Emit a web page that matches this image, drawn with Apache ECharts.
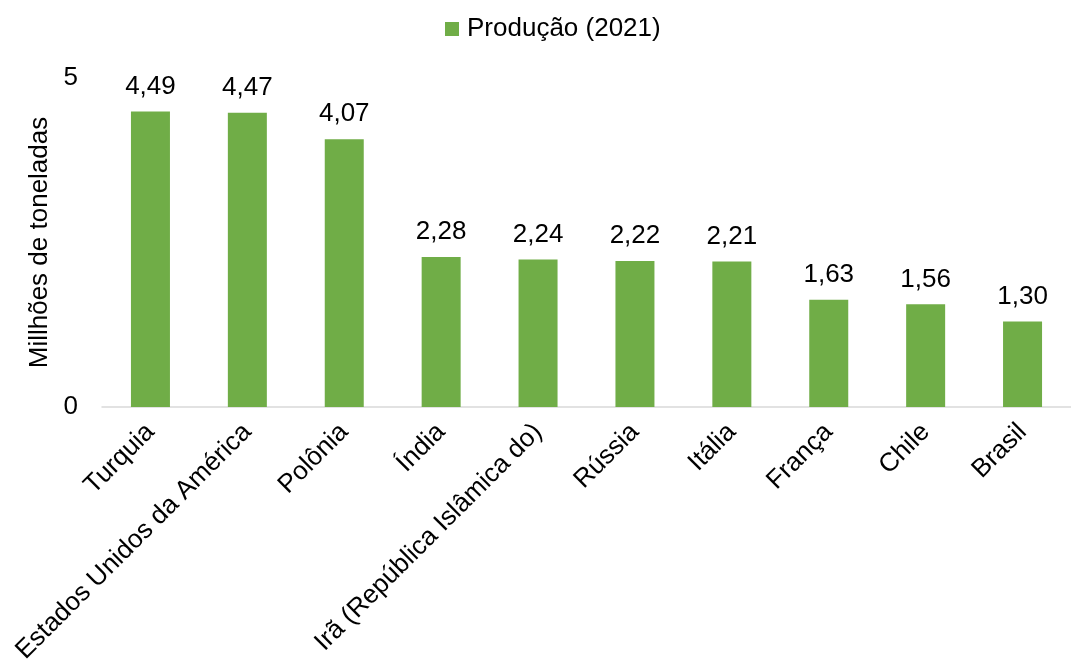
<!DOCTYPE html>
<html><head><meta charset="utf-8">
<script src="https://cdn.jsdelivr.net/npm/echarts@6/dist/echarts.min.js"></script>
<style>html,body{margin:0;padding:0;background:#fff}#c{width:1071px;height:669px}</style>
</head><body><div id="c"></div>
<script>
const categories = ["Turquia","Estados Unidos da América","Polônia","Índia","Irã (República Islâmica do)","Rússia","Itália","França","Chile","Brasil"];
const producao = [4.49,4.47,4.07,2.28,2.24,2.22,2.21,1.63,1.56,1.30];
const seriesName = "Produção (2021)";
const yName = "Millhões de toneladas";

const chart = echarts.init(document.getElementById('c'), null, {renderer:'canvas'});
const font = "Liberation Sans, Arial, sans-serif";
chart.setOption({
  animation:false,
  textStyle:{fontFamily:font},
  legend:{
    top:16, left:445, padding:0,
    itemWidth:14, itemHeight:14, itemGap:10,
    textStyle:{fontSize:26, color:'#000', fontFamily:font, padding:[0,0,0,3]},
    data:[{name:seriesName, icon:'rect'}]
  },
  grid:{left:102, top:78, bottom:262, width:975, containLabel:false},
  xAxis:{
    type:'category', data:categories,
    axisLine:{lineStyle:{color:'#d9d9d9', width:1.5}},
    axisTick:{show:false},
    axisLabel:{rotate:45, interval:0, fontSize:26, color:'#000', margin:21, fontFamily:font}
  },
  yAxis:{
    type:'value', min:0, max:5, interval:5,
    name:yName, nameLocation:'middle', nameGap:46,
    nameTextStyle:{fontSize:26, color:'#000', fontFamily:font},
    splitLine:{show:false},
    axisLine:{show:false}, axisTick:{show:false},
    axisLabel:{fontSize:26, color:'#000', margin:24, fontFamily:font}
  },
  series:[{
    name:seriesName, type:'bar', data:producao, barWidth:39,
    itemStyle:{color:'#70ad47'},
    label:{show:true, position:'top', distance:12, fontSize:26, color:'#000', fontFamily:font,
      formatter:p=>p.value.toFixed(2).replace('.',',')}
  }]
});
</script></body></html>
